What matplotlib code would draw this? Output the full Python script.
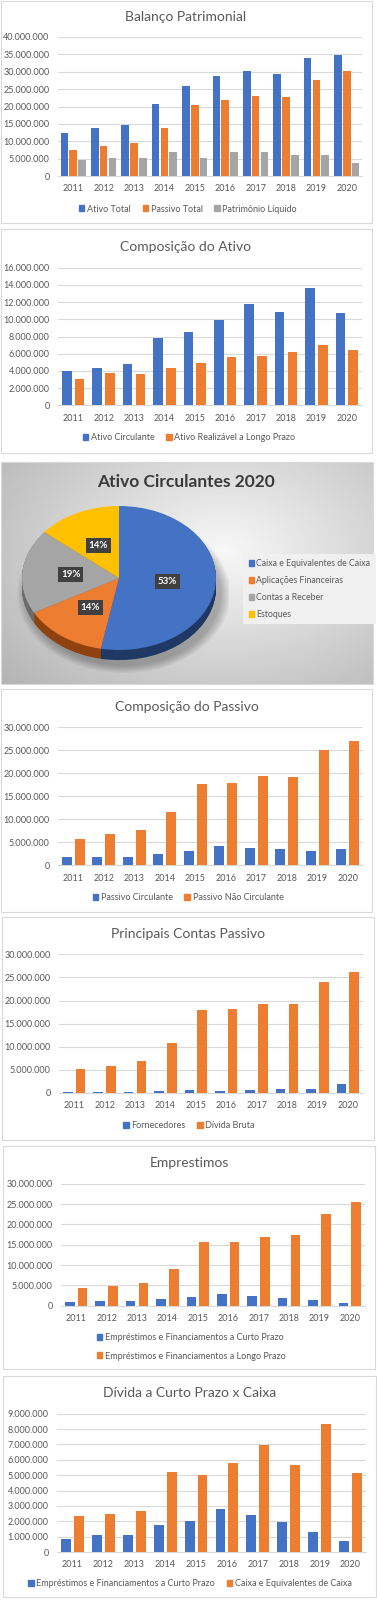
import numpy as np
import matplotlib
matplotlib.use('Agg')
import matplotlib.pyplot as plt
from matplotlib.patches import Patch, Rectangle, Ellipse

plt.rcParams['font.family'] = ['Lato', 'DejaVu Sans']

# valores em milhões
anos = ['2011', '2012', '2013', '2014', '2015', '2016', '2017', '2018', '2019', '2020']

ativo_total = [12.5, 13.8, 14.6, 20.7, 25.8, 28.8, 30.1, 29.3, 34.1, 34.8]
passivo_total = [7.5, 8.5, 9.4, 13.8, 20.5, 21.9, 22.9, 22.6, 27.7, 30.3]
patrimonio_liquido = [4.7, 5.1, 5.1, 6.9, 5.1, 6.9, 6.9, 6.0, 5.9, 3.6]

ativo_circulante = [4.03, 4.30, 4.77, 7.87, 8.57, 9.96, 11.74, 10.81, 13.64, 10.74]
ativo_rlp = [3.02, 3.76, 3.60, 4.30, 4.96, 5.62, 5.77, 6.24, 6.98, 6.40]

pie_labels = ['Caixa e Equivalentes de Caixa', 'Aplicações Financeiras',
              'Contas a Receber', 'Estoques']
pie_pct = [53, 14, 19, 14]

passivo_circulante = [1.88, 1.74, 1.74, 2.46, 3.04, 4.13, 3.70, 3.55, 3.04, 3.55]
passivo_nao_circulante = [5.72, 6.74, 7.60, 11.5, 17.6, 17.9, 19.4, 19.3, 25.0, 27.0]

fornecedores = [0.20, 0.20, 0.20, 0.36, 0.65, 0.50, 0.65, 0.87, 0.87, 1.95]
divida_bruta = [5.19, 5.92, 6.93, 10.82, 17.9, 18.18, 19.34, 19.19, 23.95, 26.1]

emprest_curto = [0.87, 1.08, 1.13, 1.74, 2.03, 2.80, 2.43, 1.93, 1.28, 0.72]
emprest_longo = [4.34, 4.92, 5.66, 9.10, 15.74, 15.57, 16.89, 17.30, 22.62, 25.5]

caixa = [2.32, 2.47, 2.67, 5.18, 5.01, 5.81, 6.96, 5.64, 8.31, 5.14]

BLUE, ORANGE, GRAY, YELLOW = '#4472c4', '#ed7d31', '#a5a5a5', '#ffc000'
TXT = '#595959'

W, H = 377, 1600
fig = plt.figure(figsize=(W / 100, H / 100), dpi=100)


def fx(x):
    return x / W


def fy(y):
    return 1 - y / H


def box(x0, y0, x1, y1):
    return [x0 / W, 1 - y1 / H, (x1 - x0) / W, (y1 - y0) / H]


def panel(x0, y0, x1, y1, fc='white'):
    fig.patches.append(Rectangle((fx(x0), fy(y1)), (x1 - x0) / W, (y1 - y0) / H,
                                 transform=fig.transFigure, fc=fc, ec='#d9d9d9',
                                 lw=0.8, zorder=-10))


def fmt(v):
    return f'{v * 1e6:,.0f}'.replace(',', '.')


def bar_chart(rect, title, title_pos, series, labels, colors, ymax, step,
              width, offsets, legend_pos, ncol=None):
    ax = fig.add_axes(box(*rect))
    ax.set_facecolor('none')
    x = np.arange(len(anos))
    for vals, col, off in zip(series, colors, offsets):
        ax.bar(x + off, vals, width, color=col, zorder=3)
    ax.set_xlim(-0.5, len(anos) - 0.5)
    ax.set_ylim(0, ymax)
    ticks = np.arange(0, ymax + step / 2, step)
    ax.set_yticks(ticks)
    ax.set_yticklabels([fmt(t) for t in ticks])
    ax.set_xticks(x)
    ax.set_xticklabels(anos)
    ax.grid(axis='y', color='#d9d9d9', lw=0.8, zorder=0)
    for s in ['top', 'right', 'left']:
        ax.spines[s].set_visible(False)
    ax.spines['bottom'].set_color('#d9d9d9')
    ax.tick_params(length=0, labelsize=6.5, colors=TXT)
    ax.tick_params(axis='x', pad=6)
    ax.tick_params(axis='y', pad=6)
    fig.text(fx(title_pos[0]), fy(title_pos[1]), title, ha='center', va='center',
             fontsize=10, color=TXT)
    handles = [Patch(color=c, label=l) for c, l in zip(colors, labels)]
    fig.legend(handles=handles, loc='center',
               bbox_to_anchor=(fx(legend_pos[0]), fy(legend_pos[1])),
               ncol=ncol or len(labels), frameon=False, fontsize=6.5,
               labelcolor=TXT, handlelength=0.6, handleheight=0.6,
               handletextpad=0.3, columnspacing=1.3, labelspacing=1.0)
    return ax


# painel 1
panel(1, 1, 372, 223)
bar_chart((58, 37, 362, 176), 'Balanço Patrimonial', (186, 17),
          [ativo_total, passivo_total, patrimonio_liquido],
          ['Ativo Total', 'Passivo Total', 'Patrimônio Líquido'],
          [BLUE, ORANGE, GRAY], 40, 5, 0.25, [-0.29, 0, 0.29], (188, 209))

# painel 2
panel(1, 229, 372, 453)
bar_chart((58, 267.7, 362, 405.3), 'Composição do Ativo', (186, 247),
          [ativo_circulante, ativo_rlp],
          ['Ativo Circulante', 'Ativo Realizável a Longo Prazo'],
          [BLUE, ORANGE], 16, 2, 0.32, [-0.21, 0.21], (189, 438))

# painel 3 - pizza
px0, py0, px1, py1 = 1, 462, 373, 684
axbg = fig.add_axes(box(px0, py0, px1, py1))
yy, xx = np.mgrid[0:1:200j, 0:1:300j]
r = np.sqrt(((xx - 0.6) / 0.75) ** 2 + ((yy - 0.4) / 0.85) ** 2)
axbg.imshow(np.clip(0.97 - 0.25 * r, 0, 1), cmap='gray', vmin=0, vmax=1,
            aspect='auto', extent=(0, 1, 1, 0))
axbg.set_axis_off()
fig.patches.append(Rectangle((fx(px0), fy(py1)), (px1 - px0) / W, (py1 - py0) / H,
                             transform=fig.transFigure, fill=False, ec='#d9d9d9',
                             lw=0.8))
fig.text(fx(186), fy(482), 'Ativo Circulantes 2020', ha='center', va='center',
         fontsize=12.5, fontweight='bold', color='#3a3a3a')

axp = fig.add_axes(box(9, 498, 229, 678))
axp.set_facecolor('none')
for i, s in enumerate(np.linspace(1.1, 1.0, 8)):
    axp.add_patch(Ellipse((0.05, -0.22), 2 * s, 2 * s, color='black',
                          alpha=0.035, lw=0))
side_colors = ['#1f3864', '#8f4210', '#6b6b6b', '#a07800']
for d in np.linspace(0.14, 0.01, 14):
    axp.pie(pie_pct, colors=side_colors, startangle=90, counterclock=False,
            center=(0, -d), radius=1, wedgeprops=dict(lw=0))
wedges, texts, autotexts = axp.pie(
    pie_pct, colors=[BLUE, ORANGE, GRAY, YELLOW], startangle=90,
    counterclock=False, autopct='%1.0f%%', pctdistance=0.5,
    textprops=dict(color='white', fontsize=7, fontweight='bold'),
    wedgeprops=dict(lw=0))
for t in autotexts:
    t.set_bbox(dict(boxstyle='square,pad=0.3', fc='#404040', ec='none'))
axp.set_aspect('auto')
axp.set_xlim(-110 / 97, 110 / 97)
axp.set_ylim(-100 / 72, 80 / 72)

pie_handles = [Patch(color=c, label=l) for c, l in
               zip([BLUE, ORANGE, GRAY, YELLOW], pie_labels)]
leg = fig.legend(handles=pie_handles, loc='center left',
                 bbox_to_anchor=(fx(239), fy(589)), frameon=True, fontsize=6.3,
                 labelcolor=TXT, handlelength=0.6, handleheight=0.6,
                 handletextpad=0.3, labelspacing=0.9, fancybox=False,
                 borderpad=0.6)
leg.get_frame().set_facecolor('#f0f0f0')
leg.get_frame().set_edgecolor('none')
leg.get_frame().set_alpha(1)

# painel 4
panel(1, 689, 372, 912)
bar_chart((58, 727.3, 363, 865.3), 'Composição do Passivo', (187, 707),
          [passivo_circulante, passivo_nao_circulante],
          ['Passivo Circulante', 'Passivo Não Circulante'],
          [BLUE, ORANGE], 30, 5, 0.32, [-0.21, 0.21], (188, 898))

# painel 5
panel(2, 917, 374, 1140)
bar_chart((59, 954.3, 363, 1093), 'Principais Contas Passivo', (188, 934),
          [fornecedores, divida_bruta],
          ['Fornecedores', 'Dívida Bruta'],
          [BLUE, ORANGE], 30, 5, 0.32, [-0.21, 0.21], (189, 1126))

# painel 6
panel(3, 1146, 375, 1369)
bar_chart((61, 1183.7, 365, 1305.7), 'Emprestimos', (189, 1163),
          [emprest_curto, emprest_longo],
          ['Empréstimos e Financiamentos a Curto Prazo',
           'Empréstimos e Financiamentos a Longo Prazo'],
          [BLUE, ORANGE], 30, 5, 0.32, [-0.21, 0.21], (191, 1347), ncol=1)

# painel 7
panel(3, 1376, 376, 1597)
bar_chart((57, 1413.7, 366, 1552), 'Dívida a Curto Prazo x Caixa', (190, 1393),
          [emprest_curto, caixa],
          ['Empréstimos e Financiamentos a Curto Prazo',
           'Caixa e Equivalentes de Caixa'],
          [BLUE, ORANGE], 9, 1, 0.32, [-0.21, 0.21], (190, 1584))

fig.savefig('out.png', dpi=100)
